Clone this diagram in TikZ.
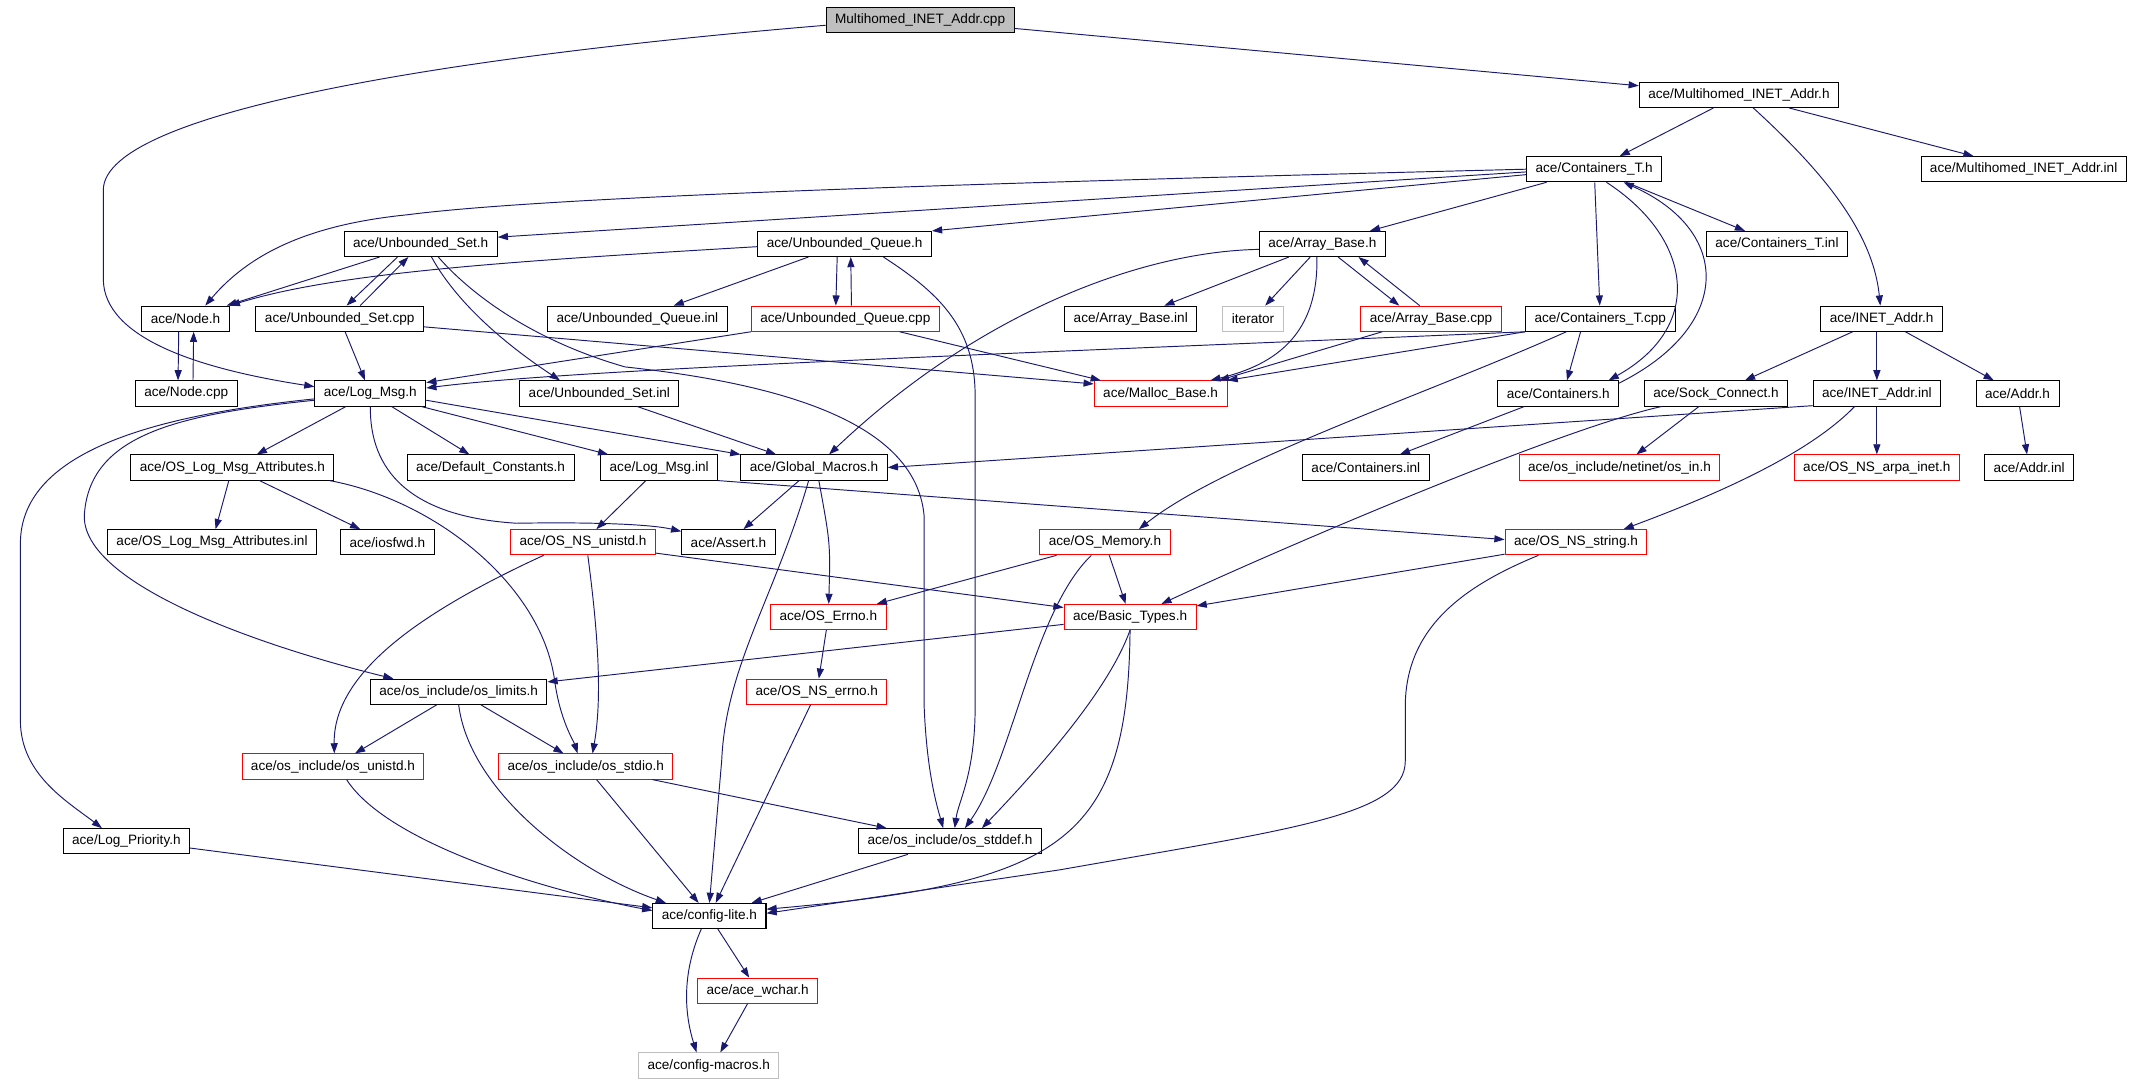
\documentclass[tikz,border=0pt]{standalone}
\usepackage{xcolor}
\usepackage{fontspec}
\usepackage{tikz}
\usetikzlibrary{arrows.meta}
\newfontfamily\graphfont{Liberation Sans}
\definecolor{edgeblue}{HTML}{191970}
\definecolor{boxgray}{HTML}{BFBFBF}
\tikzset{
  filebox/.style={draw=black,line width=0.74pt,fill=white,minimum height=18.5pt,
    inner xsep=6.6pt,inner ysep=0pt,font=\graphfont\fontsize{10}{12}\selectfont},
  redbox/.style={filebox,draw=red},
  graybox/.style={filebox,draw=boxgray},
  rootbox/.style={filebox,fill=boxgray},
  incl/.style={draw=edgeblue,line width=0.7pt,-{Triangle[length=7.5pt,width=5.2pt]}}
}
\begin{document}
\begin{tikzpicture}[x=1pt,y=-1pt]
                \useasboundingbox (0,0) rectangle (1568,797);%

                % Marking the files, row by row
                \draw (677,14.6) node [rootbox] (cpp) {Multihomed\_INET\_Addr.cpp};%
                \draw (1279.5,69.8) node [filebox] (MIAh) {ace/Multihomed\_INET\_Addr.h};%
                \draw (1173,124.5) node [filebox] (CTh) {ace/Containers\_T.h};%
                \draw (1489,124.5) node [filebox] (MIAinl) {ace/Multihomed\_INET\_Addr.inl};%

                \draw (309.5,179.5) node [filebox] (USh) {ace/Unbounded\_Set.h};%
                \draw (621.5,179.5) node [filebox] (UQh) {ace/Unbounded\_Queue.h};%
                \draw (973,179.5) node [filebox] (ABh) {ace/Array\_Base.h};%
                \draw (1307.5,179.5) node [filebox] (CTinl) {ace/Containers\_T.inl};%

                \draw (136.5,234.5) node [filebox] (Nodeh) {ace/Node.h};%
                \draw (250,234.5) node [filebox] (UScpp) {ace/Unbounded\_Set.cpp};%
                \draw (469,234.5) node [filebox] (UQinl) {ace/Unbounded\_Queue.inl};%
                \draw (622,234.5) node [redbox] (UQcpp) {ace/Unbounded\_Queue.cpp};%
                \draw (832,234.5) node [filebox] (ABinl) {ace/Array\_Base.inl};%
                \draw (922,234.5) node [graybox] (iterator) {iterator};%
                \draw (1053,234.5) node [redbox] (ABcpp) {ace/Array\_Base.cpp};%
                \draw (1177.5,234.5) node [filebox] (CTcpp) {ace/Containers\_T.cpp};%
                \draw (1384.5,234.5) node [filebox] (INETh) {ace/INET\_Addr.h};%

                \draw (137,289.5) node [filebox] (Nodecpp) {ace/Node.cpp};%
                \draw (272.5,289.5) node [filebox] (LogMsgh) {ace/Log\_Msg.h};%
                \draw (441,289.5) node [filebox] (USinl) {ace/Unbounded\_Set.inl};%
                \draw (854,289.5) node [redbox] (Malloch) {ace/Malloc\_Base.h};%
                \draw (1146.6,289.5) node [filebox] (Containersh) {ace/Containers.h};%
                \draw (1262.6,289.5) node [filebox] (SockConnh) {ace/Sock\_Connect.h};%
                \draw (1381,289.5) node [filebox] (INETinl) {ace/INET\_Addr.inl};%
                \draw (1484.5,289.5) node [filebox] (Addrh) {ace/Addr.h};%

                \draw (171,344) node [filebox] (OSLMAh) {ace/OS\_Log\_Msg\_Attributes.h};%
                \draw (361,344) node [filebox] (DefConsth) {ace/Default\_Constants.h};%
                \draw (485,344) node [filebox] (LogMsginl) {ace/Log\_Msg.inl};%
                \draw (599,344) node [filebox] (GMh) {ace/Global\_Macros.h};%
                \draw (1005,344) node [filebox] (Containersinl) {ace/Containers.inl};%
                \draw (1191.6,344) node [redbox] (osinh) {ace/os\_include/netinet/os\_in.h};%
                \draw (1381,344) node [redbox] (arpainet) {ace/OS\_NS\_arpa\_inet.h};%
                \draw (1493,344) node [filebox] (Addrinl) {ace/Addr.inl};%

                \draw (156,399) node [filebox] (OSLMAinl) {ace/OS\_Log\_Msg\_Attributes.inl};%
                \draw (285,399) node [filebox] (iosfwd) {ace/iosfwd.h};%
                \draw (429,399) node [redbox] (OSNSunistd) {ace/OS\_NS\_unistd.h};%
                \draw (536,399) node [filebox] (Asserth) {ace/Assert.h};%
                \draw (813,399) node [redbox] (OSMemory) {ace/OS\_Memory.h};%
                \draw (1159.6,399) node [redbox] (OSNSstring) {ace/OS\_NS\_string.h};%

                \draw (609.5,454) node [redbox] (OSErrno) {ace/OS\_Errno.h};%
                \draw (831.5,454) node [redbox] (BasicTypes) {ace/Basic\_Types.h};%
                \draw (337.5,509) node [filebox] (oslimits) {ace/os\_include/os\_limits.h};%
                \draw (601,509) node [redbox] (OSNSerrno) {ace/OS\_NS\_errno.h};%
                \draw (245,564) node [redbox] (osunistd) {ace/os\_include/os\_unistd.h};%
                \draw (431,564) node [redbox] (osstdio) {ace/os\_include/os\_stdio.h};%
                \draw (93,619) node [filebox] (LogPriority) {ace/Log\_Priority.h};%
                \draw (699,619) node [filebox] (osstddef) {ace/os\_include/os\_stddef.h};%
                \draw (522,674) node [filebox] (configlite) {ace/config-lite.h};%
                \draw (557.5,729) node [redbox] (acewchar) {ace/ace\_wchar.h};%
                \draw (521.5,784) node [graybox] (configmacros) {ace/config-macros.h};%

                % Drawing includes of Multihomed_INET_Addr.cpp
                \draw [incl] (cpp) -- (MIAh);%
                \draw [incl] ([yshift=-4pt]cpp.west) .. controls (350,40) and (76,80) .. (76,140) -- (76,205) .. controls (76,250) and (150,272) .. ([yshift=5pt]LogMsgh.west);%

                % Drawing includes of ace/Multihomed_INET_Addr.h
                \draw [incl] (MIAh) -- (CTh);%
                \draw [incl] (MIAh) -- (MIAinl);%
                \draw [incl] (MIAh) .. controls (1340,125) and (1378,170) .. (INETh);%

                % Drawing includes of ace/Containers_T.h
                \draw [incl] (CTh.west) .. controls (700,135) and (400,145) .. (300,158) .. controls (230,165) and (185,185) .. ([xshift=14.5pt]Nodeh.north);%
                \draw [incl] ([yshift=-2pt]CTh.west) -- ([yshift=5pt]USh.east);%
                \draw [incl] ([yshift=-4pt]CTh.west) -- (UQh.north east);%
                \draw [incl] (CTh) -- (ABh);%
                \draw [incl] (CTh) -- (CTinl);%
                \draw [incl] (CTh) -- (CTcpp);%
                \draw [incl] ([xshift=9pt]CTh.south) .. controls (1245,175) and (1255,240) .. ([xshift=37pt]Containersh.north);%

                % Drawing includes of ace/Unbounded_Set.h
                \draw [incl] (USh) -- (Nodeh);%
                \draw [incl] ([xshift=-17pt]USh.south) -- ([xshift=5pt]UScpp.north);%
                \draw [incl] ([xshift=8pt]USh.south) .. controls (340,230) and (385,262) .. ([xshift=-29pt]USinl.north);%
                \draw [incl] ([xshift=13pt]USh.south) .. controls (345,215) and (390,250) .. (460,270) .. controls (600,285) and (675,320) .. (680,380) -- (680,520) .. controls (682,570) and (690,595) .. ([xshift=-5pt]osstddef.north);%

                % Drawing includes of ace/Unbounded_Set.cpp
                \draw [incl] ([xshift=15pt]UScpp.north) -- ([xshift=-9pt]USh.south);%
                \draw [incl] (UScpp) -- (LogMsgh);%
                \draw [incl] ([yshift=-6pt]UScpp.east) -- ([yshift=7pt]Malloch.west);%

                % Drawing includes of ace/Unbounded_Queue.h
                \draw [incl] ([yshift=-2pt]UQh.west) .. controls (380,192) and (250,200) .. (Nodeh.north east);%
                \draw [incl] (UQh) -- (UQinl);%
                \draw [incl] ([xshift=-5.5pt]UQh.south) -- ([xshift=-7pt]UQcpp.north);%
                \draw [incl] ([xshift=28.5pt]UQh.south) .. controls (690,215) and (717,240) .. (717.5,290) -- (717.5,520) .. controls (717.5,570) and (705,590) .. ([xshift=3.5pt]osstddef.north);%

                % Drawing includes of ace/Unbounded_Queue.cpp
                \draw [incl] ([xshift=4.5pt]UQcpp.north) -- ([xshift=4.5pt]UQh.south);%
                \draw [incl] (UQcpp.south west) -- ([yshift=8pt]LogMsgh.east);%
                \draw [incl] ([xshift=40pt]UQcpp.south) -- ([xshift=-44pt]Malloch.north);%

                % Drawing includes of ace/Node.h and ace/Node.cpp
                \draw [incl] ([xshift=-5pt]Nodeh.south) -- ([xshift=-6pt]Nodecpp.north);%
                \draw [incl] ([xshift=5pt]Nodecpp.north) -- ([xshift=6pt]Nodeh.south);%

                % Drawing includes of ace/Array_Base.h
                \draw [incl] ([yshift=-4pt]ABh.west) .. controls (840,185) and (720,230) .. ([xshift=11pt]GMh.north);%
                \draw [incl] (ABh) -- (ABinl);%
                \draw [incl] (ABh) -- (iterator);%
                \draw [incl] ([xshift=-4pt]ABh.south) .. controls (970,245) and (940,268) .. ([xshift=36.6pt]Malloch.north);%
                \draw [incl] ([xshift=11.6pt]ABh.south) -- ([xshift=-23.4pt]ABcpp.north);%

                % Drawing includes of ace/Array_Base.cpp
                \draw [incl] ([xshift=-8.4pt]ABcpp.north) -- ([xshift=26.6pt]ABh.south);%
                \draw [incl] ([xshift=-36pt]ABcpp.south) -- ([xshift=43pt]Malloch.north);%

                % Drawing includes of ace/Containers_T.cpp
                \draw [incl] (CTcpp.south west) .. controls (700,262) and (420,272) .. ([yshift=4pt]LogMsgh.east);%
                \draw [incl] (CTcpp.south west) -- (Malloch.north east);%
                \draw [incl] ([xshift=-25pt]CTcpp.south) .. controls (1050,290) and (900,340) .. ([xshift=25pt]OSMemory.north);%
                \draw [incl] ([xshift=-14.5pt]CTcpp.south) -- ([xshift=6.4pt]Containersh.north);%

                % Drawing includes of ace/Containers.h
                \draw [incl] ([yshift=-2pt]Containersh.north east) .. controls (1275,240) and (1275,170) .. ([xshift=21.6pt]CTh.south);%
                \draw [incl] (Containersh) -- (Containersinl);%

                % Drawing includes of ace/INET_Addr.h
                \draw [incl] (INETh) -- (SockConnh);%
                \draw [incl] ([xshift=-3.5pt]INETh.south) -- (INETinl.north);%
                \draw [incl] (INETh) -- (Addrh);%

                % Drawing includes of ace/Sock_Connect.h
                \draw [incl] (SockConnh) -- (osinh);%
                \draw [incl] ([xshift=-40pt]SockConnh.south) .. controls (1150,315) and (950,400) .. ([xshift=23pt]BasicTypes.north);%

                % Drawing includes of ace/INET_Addr.inl
                \draw [incl] ([yshift=-9pt]INETinl.west) -- (GMh.east);%
                \draw [incl] (INETinl) -- (arpainet);%
                \draw [incl] ([xshift=-16.4pt]INETinl.south) .. controls (1330,335) and (1260,365) .. ([xshift=35pt]OSNSstring.north);%

                % Drawing includes of ace/Addr.h
                \draw [incl] (Addrh) -- (Addrinl);%

                % Drawing includes of ace/Log_Msg.h
                \draw [incl] (LogMsgh) -- (OSLMAh);%
                \draw [incl] (LogMsgh) -- (DefConsth);%
                \draw [incl] (LogMsgh) -- (LogMsginl);%
                \draw [incl] ([yshift=-5pt]LogMsgh.east) -- (GMh.north west);%
                \draw [incl] (LogMsgh.south) .. controls (272,345) and (300,380) .. (380,385) .. controls (440,384) and (480,386) .. ([yshift=8pt]Asserth.west);%
                \draw [incl] ([yshift=-5pt]LogMsgh.west) .. controls (130,305) and (65,320) .. (62,380) .. controls (62,430) and (190,475) .. ([xshift=-48pt]oslimits.north);%
                \draw [incl] ([yshift=-4pt]LogMsgh.west) .. controls (120,305) and (15,330) .. (15,400) -- (15,530) .. controls (15,570) and (50,590) .. ([xshift=-18pt]LogPriority.north);%

                % Drawing includes of ace/OS_Log_Msg_Attributes.h
                \draw [incl] (OSLMAh) -- (OSLMAinl);%
                \draw [incl] (OSLMAh) -- (iosfwd);%
                \draw [incl] ([xshift=71.5pt]OSLMAh.south) .. controls (320,368) and (398,430) .. (408,500) .. controls (412,530) and (422,545) .. ([xshift=-6pt]osstdio.north);%

                % Drawing includes of ace/Log_Msg.inl and ace/Unbounded_Set.inl
                \draw [incl] (LogMsginl) -- (OSNSunistd);%
                \draw [incl] (LogMsginl.south east) -- ([yshift=2pt]OSNSstring.west);%
                \draw [incl] (USinl) -- (GMh);%

                % Drawing includes of ace/Global_Macros.h
                \draw [incl] (GMh) -- (Asserth);%
                \draw [incl] ([xshift=3.5pt]GMh.south) .. controls (611,400) .. (OSErrno);%
                \draw [incl] ([xshift=-4pt]GMh.south) .. controls (570,440) and (534,490) .. (531,560) -- (configlite.north);%

                % Drawing includes of ace/OS_NS_unistd.h
                \draw [incl] ([xshift=-29pt]OSNSunistd.south) .. controls (310,450) and (245,495) .. ([xshift=1pt]osunistd.north);%
                \draw [incl] ([xshift=3.5pt]OSNSunistd.south) .. controls (442,480) and (442,520) .. ([xshift=5pt]osstdio.north);%
                \draw [incl] ([yshift=-8pt]OSNSunistd.east) -- ([yshift=7pt]BasicTypes.west);%

                % Drawing includes of ace/OS_Memory.h
                \draw [incl] (OSMemory) -- (OSErrno);%
                \draw [incl] (OSMemory) -- (BasicTypes);%
                \draw [incl] ([xshift=-10pt]OSMemory.south) .. controls (760,450) and (745,560) .. ([xshift=11pt]osstddef.north);%

                % Drawing includes of ace/OS_NS_string.h
                \draw [incl] (OSNSstring) -- (BasicTypes);%
                \draw [incl] ([xshift=-27.6pt]OSNSstring.south) .. controls (1080,430) and (1034,460) .. (1034,520) -- (1034,560) .. controls (1034,600) and (950,610) .. (780,640) -- ([yshift=2pt]configlite.east);%

                % Drawing includes of ace/Basic_Types.h
                \draw [incl] (BasicTypes.south) .. controls (830,620) and (780,650) .. ([yshift=5pt]configlite.east);%
                \draw [incl] (BasicTypes.south) .. controls (815,510) and (760,570) .. ([xshift=23.5pt]osstddef.north);%
                \draw [incl] (BasicTypes) -- (oslimits);%

                % Drawing includes of the errno and os_include headers
                \draw [incl] (OSErrno) -- (OSNSerrno);%
                \draw [incl] (OSNSerrno) -- (configlite);%
                \draw [incl] (oslimits) -- (osunistd);%
                \draw [incl] (oslimits) -- (osstdio);%
                \draw [incl] (oslimits.south) .. controls (345,580) and (420,640) .. ([xshift=-32pt]configlite.north);%
                \draw [incl] ([xshift=10pt]osunistd.south) .. controls (285,620) and (400,655) .. ([yshift=4pt]configlite.west);%
                \draw [incl] (osstdio) -- (configlite);%
                \draw [incl] ([xshift=49pt]osstdio.south) -- ([xshift=-46.5pt]osstddef.north);%
                \draw [incl] ([yshift=-5pt]LogPriority.east) -- ([yshift=6pt]configlite.west);%
                \draw [incl] (osstddef) -- (configlite);%

                % Drawing includes of ace/config-lite.h
                \draw [incl] (configlite) -- (acewchar);%
                \draw [incl] ([xshift=-6pt]configlite.south) .. controls (500,720) and (505,750) .. ([xshift=-9pt]configmacros.north);%
                \draw [incl] ([xshift=-7.5pt]acewchar.south) -- ([xshift=8.5pt]configmacros.north);%
\end{tikzpicture}
\end{document}
